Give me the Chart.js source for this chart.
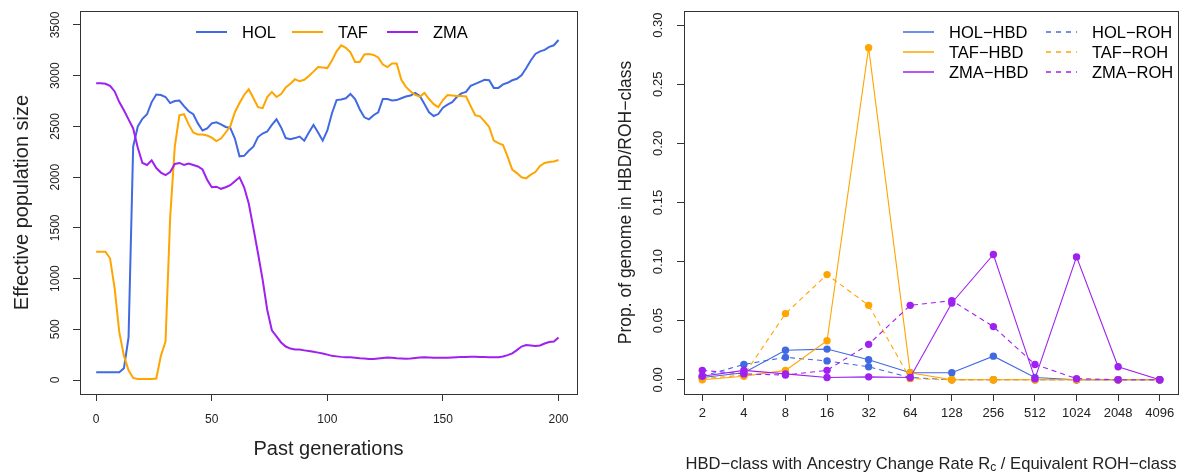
<!DOCTYPE html>
<html>
<head>
<meta charset="utf-8">
<script src="https://cdn.jsdelivr.net/npm/chart.js@4.4.1/dist/chart.umd.min.js"></script>
<style>
  html, body { margin: 0; padding: 0; background: #fff; }
  #wrap { position: relative; width: 1182px; height: 472px; overflow: hidden; }
  canvas { position: absolute; top: 0; }
  #neChart { left: 0; }
  #hbdChart { left: 590px; }
</style>
</head>
<body>
<div id="wrap">
  <canvas id="neChart" width="590" height="472"></canvas>
  <canvas id="hbdChart" width="592" height="472"></canvas>
</div>
<script>
// --- left panel: effective population size ---
const gens = [0, 2, 4, 6, 8, 10, 12, 14, 16, 18, 20, 22, 24, 26, 28, 30, 32, 34, 36, 38, 40,
  42, 44, 46, 48, 50, 52, 54, 56, 58, 60, 62, 64, 66, 68, 70, 72, 74, 76, 78, 80,
  82, 84, 86, 88, 90, 92, 94, 96, 98, 100, 102, 104, 106, 108, 110, 112, 114, 116, 118, 120,
  122, 124, 126, 128, 130, 132, 134, 136, 138, 140, 142, 144, 146, 148, 150, 152, 154, 156, 158, 160,
  162, 164, 166, 168, 170, 172, 174, 176, 178, 180, 182, 184, 186, 188, 190, 192, 194, 196, 198, 200];

const neHOL = [76, 76, 76, 76, 76, 76, 115, 420, 2300, 2500, 2575,
  2620, 2740, 2815, 2810, 2790, 2730, 2750, 2755, 2700, 2650,
  2620, 2530, 2460, 2480, 2530, 2540, 2520, 2495, 2485, 2380,
  2205, 2210, 2260, 2300, 2395, 2430, 2450, 2515, 2570, 2490,
  2385, 2373, 2385, 2400, 2360, 2440, 2514, 2440, 2360, 2460,
  2630, 2760, 2765, 2777, 2820, 2770, 2670, 2590, 2570, 2610,
  2640, 2770, 2770, 2755, 2760, 2778, 2795, 2805, 2830, 2800,
  2720, 2640, 2603, 2622, 2685, 2715, 2740, 2790, 2826, 2840,
  2900, 2920, 2940, 2960, 2955, 2880, 2880, 2915, 2930, 2955,
  2970, 3005, 3073, 3150, 3215, 3240, 3255, 3285, 3300, 3352];

const neTAF = [1265, 1265, 1265, 1200, 900, 470, 240, 95, 20, 10, 10,
  10, 10, 15, 240, 380, 1600, 2300, 2610, 2620, 2520,
  2440, 2420, 2420, 2410, 2390, 2355, 2380, 2440, 2500, 2640,
  2730, 2810, 2865, 2780, 2690, 2680, 2790, 2840, 2790, 2820,
  2885, 2920, 2965, 2945, 2960, 2997, 3040, 3085, 3080, 3075,
  3150, 3240, 3300, 3275, 3230, 3135, 3135, 3210, 3215, 3205,
  3180, 3110, 3085, 3120, 3120, 2960, 2890, 2845, 2810, 2793,
  2830, 2770, 2720, 2690, 2760, 2810, 2805, 2800, 2800, 2795,
  2700, 2610, 2600, 2550, 2495, 2360, 2335, 2317, 2200, 2075,
  2040, 1998, 1988, 2025, 2050, 2110, 2140, 2150, 2155, 2169];

const neZMA = [2925, 2925, 2920, 2900, 2845, 2740, 2660, 2570, 2480, 2290, 2140,
  2120, 2165, 2090, 2045, 2021, 2050, 2130, 2140, 2120, 2135,
  2120, 2105, 2075, 1975, 1900, 1906, 1885, 1900, 1920, 1960,
  1998, 1900, 1740, 1500, 1250, 990, 690, 490, 430, 370,
  330, 310, 300, 300, 292, 285, 279, 270, 262, 250,
  238, 233, 228, 225, 224, 220, 215, 212, 208, 207,
  212, 218, 222, 220, 215, 212, 210, 212, 218, 222,
  224, 222, 220, 220, 220, 220, 222, 225, 228, 228,
  230, 230, 228, 226, 225, 224, 224, 232, 245, 263,
  295, 330, 345, 340, 336, 340, 360, 375, 380, 420];

const neTicksX = [0, 50, 100, 150, 200];
const neTicksY = [0, 500, 1000, 1500, 2000, 2500, 3000, 3500];

// --- right panel: HBD / ROH classes ---
const hbdClasses = ["2", "4", "8", "16", "32", "64", "128", "256", "512", "1024", "2048", "4096"];
const holHBD = [0.002, 0.006, 0.025, 0.026, 0.017, 0.006, 0.006, 0.020, 0.002, 0.000, 0.000, 0.000];
const holROH = [0.003, 0.013, 0.019, 0.016, 0.011, 0.002, 0.000, 0.000, 0.000, 0.000, 0.000, 0.000];
const tafHBD = [0.000, 0.003, 0.008, 0.033, 0.281, 0.006, 0.000, 0.000, 0.000, 0.000, 0.000, 0.000];
const tafROH = [0.001, 0.004, 0.056, 0.089, 0.063, 0.001, 0.000, 0.000, 0.000, 0.000, 0.000, 0.000];
const zmaHBD = [0.003, 0.008, 0.005, 0.002, 0.0025, 0.002, 0.065, 0.106, 0.001, 0.104, 0.011, 0.000];
const zmaROH = [0.008, 0.005, 0.004, 0.008, 0.030, 0.063, 0.067, 0.045, 0.013, 0.001, 0.000, 0.000];
const hbdTicksY = [0, 0.05, 0.10, 0.15, 0.20, 0.25, 0.30];

const BLUE = "#4169E1";
const ORANGE = "#FFA500";
const PURPLE = "#A020F0";
const FONT = '"Liberation Sans", Arial, Helvetica, sans-serif';
const INK = "#222";

// draws the R-like box, tick labels, axis titles and legend
function rFrame(cfg) {
  return {
    id: "rFrame",
    afterDraw(chart) {
      const { ctx, chartArea: a, scales } = chart;
      ctx.save();
      ctx.strokeStyle = "#333";
      ctx.lineWidth = 1;
      ctx.setLineDash([]);
      ctx.strokeRect(Math.round(a.left) + 0.5, Math.round(a.top) + 0.5,
        Math.round(a.right - a.left), Math.round(a.bottom - a.top));

      ctx.fillStyle = INK;
      ctx.textAlign = "center";
      ctx.textBaseline = "middle";
      ctx.font = cfg.tickFont + "px " + FONT;
      scales.x.ticks.forEach(t => {
        ctx.fillText(cfg.xLabel(t.value), scales.x.getPixelForValue(t.value), cfg.xLabelY);
      });
      scales.y.ticks.forEach(t => {
        ctx.save();
        ctx.translate(cfg.yLabelX, scales.y.getPixelForValue(t.value));
        ctx.rotate(-Math.PI / 2);
        ctx.fillText(cfg.yLabel(t.value), 0, 0);
        ctx.restore();
      });

      // axis titles
      ctx.font = cfg.yTitleFont + "px " + FONT;
      ctx.save();
      ctx.translate(cfg.yTitleX, (a.top + a.bottom) / 2);
      ctx.rotate(-Math.PI / 2);
      ctx.fillText(cfg.yTitle, 0, 0);
      ctx.restore();
      cfg.drawXTitle(ctx, (a.left + a.right) / 2);

      // legend, no box
      ctx.font = cfg.legendFont + "px " + FONT;
      ctx.textAlign = "left";
      cfg.legend.forEach(it => {
        ctx.strokeStyle = it.color;
        ctx.lineWidth = cfg.legendLine;
        ctx.setLineDash(it.dash || []);
        ctx.beginPath();
        ctx.moveTo(it.x, it.y);
        ctx.lineTo(it.x + 31, it.y);
        ctx.stroke();
        ctx.fillStyle = "#000";
        ctx.fillText(it.label, it.x + 46, it.y + 1);
      });
      ctx.restore();
    }
  };
}

function hiddenAxis(min, max, ticks, size, isX) {
  return {
    type: "linear",
    min: min,
    max: max,
    afterBuildTicks: s => { s.ticks = ticks.map(v => ({ value: v })); },
    afterFit: s => { if (isX) { s.height = size; } else { s.width = size; } },
    ticks: { display: false },
    border: { display: false },
    grid: { drawOnChartArea: false, drawTicks: true, tickLength: 7, color: "#333", lineWidth: 1 }
  };
}

const neSeries = [
  { label: "HOL", values: neHOL, color: BLUE, order: 3 },
  { label: "TAF", values: neTAF, color: ORANGE, order: 2 },
  { label: "ZMA", values: neZMA, color: PURPLE, order: 1 }
];

new Chart(document.getElementById("neChart"), {
  type: "line",
  data: {
    datasets: neSeries.map(s => ({
      label: s.label,
      data: gens.map((g, i) => ({ x: g, y: s.values[i] })),
      borderColor: s.color,
      borderWidth: 2,
      pointRadius: 0,
      tension: 0,
      order: s.order
    }))
  },
  options: {
    responsive: false,
    animation: false,
    events: [],
    layout: { padding: { left: 0, right: 13, top: 11, bottom: 0 } },
    scales: {
      x: hiddenAxis(-7, 208, neTicksX, 78, true),
      y: hiddenAxis(-138, 3638, neTicksY, 80, false)
    },
    plugins: { legend: { display: false }, tooltip: { enabled: false } }
  },
  plugins: [rFrame({
    tickFont: 12,
    xLabel: v => String(v),
    yLabel: v => String(v),
    xLabelY: 420,
    yLabelX: 56,
    yTitle: "Effective population size",
    yTitleFont: 20,
    yTitleX: 22,
    drawXTitle: (ctx, cx) => {
      ctx.font = "20px " + FONT;
      ctx.textAlign = "center";
      ctx.fillText("Past generations", cx, 449);
    },
    legendFont: 16.5,
    legendLine: 2,
    legend: [
      { label: "HOL", color: BLUE, x: 196, y: 32 },
      { label: "TAF", color: ORANGE, x: 292, y: 32 },
      { label: "ZMA", color: PURPLE, x: 387, y: 32 }
    ]
  })]
});

const hbdSeries = [
  { label: "HOL\u2212HBD", values: holHBD, color: BLUE, dash: [], order: 6 },
  { label: "HOL\u2212ROH", values: holROH, color: BLUE, dash: [5, 4], order: 5 },
  { label: "TAF\u2212HBD", values: tafHBD, color: ORANGE, dash: [], order: 4 },
  { label: "TAF\u2212ROH", values: tafROH, color: ORANGE, dash: [5, 4], order: 3 },
  { label: "ZMA\u2212HBD", values: zmaHBD, color: PURPLE, dash: [], order: 2 },
  { label: "ZMA\u2212ROH", values: zmaROH, color: PURPLE, dash: [5, 4], order: 1 }
];

new Chart(document.getElementById("hbdChart"), {
  type: "line",
  data: {
    datasets: hbdSeries.map(s => ({
      label: s.label,
      data: s.values.map((v, i) => ({ x: i + 1, y: v })),
      borderColor: s.color,
      borderWidth: 1.1,
      borderDash: s.dash,
      pointRadius: 3.7,
      pointBackgroundColor: s.color,
      pointBorderWidth: 0,
      tension: 0,
      order: s.order
    }))
  },
  options: {
    responsive: false,
    animation: false,
    events: [],
    layout: { padding: { left: 0, right: 3, top: 11, bottom: 0 } },
    scales: {
      x: hiddenAxis(0.56, 12.44, hbdClasses.map((c, i) => i + 1), 78, true),
      y: hiddenAxis(-0.012, 0.312, hbdTicksY, 94, false)
    },
    plugins: { legend: { display: false }, tooltip: { enabled: false } }
  },
  plugins: [rFrame({
    tickFont: 13,
    xLabel: v => hbdClasses[Math.round(v) - 1],
    yLabel: v => v.toFixed(2),
    xLabelY: 413,
    yLabelX: 68,
    yTitle: "Prop. of genome in HBD/ROH\u2212class",
    yTitleFont: 17.5,
    yTitleX: 36,
    drawXTitle: (ctx, cx) => {
      const p1 = "HBD\u2212class with Ancestry Change Rate R";
      const sub = "c";
      const p2 = " / Equivalent ROH\u2212class";
      ctx.font = "16.6px " + FONT;
      const w1 = ctx.measureText(p1).width;
      const w2 = ctx.measureText(p2).width;
      ctx.font = "12px " + FONT;
      const ws = ctx.measureText(sub).width;
      let x = cx - (w1 + ws + w2) / 2;
      const y = 464;
      ctx.textAlign = "left";
      ctx.font = "16.6px " + FONT;
      ctx.fillText(p1, x, y);
      x += w1;
      ctx.font = "12px " + FONT;
      ctx.fillText(sub, x, y + 4);
      x += ws;
      ctx.font = "16.6px " + FONT;
      ctx.fillText(p2, x, y);
      ctx.textAlign = "center";
    },
    legendFont: 16.5,
    legendLine: 1.5,
    legend: [
      { label: "HOL\u2212HBD", color: BLUE, x: 313, y: 32 },
      { label: "TAF\u2212HBD", color: ORANGE, x: 313, y: 52 },
      { label: "ZMA\u2212HBD", color: PURPLE, x: 313, y: 72 },
      { label: "HOL\u2212ROH", color: BLUE, dash: [5, 5], x: 456, y: 32 },
      { label: "TAF\u2212ROH", color: ORANGE, dash: [5, 5], x: 456, y: 52 },
      { label: "ZMA\u2212ROH", color: PURPLE, dash: [5, 5], x: 456, y: 72 }
    ]
  })]
});
</script>
</body>
</html>
